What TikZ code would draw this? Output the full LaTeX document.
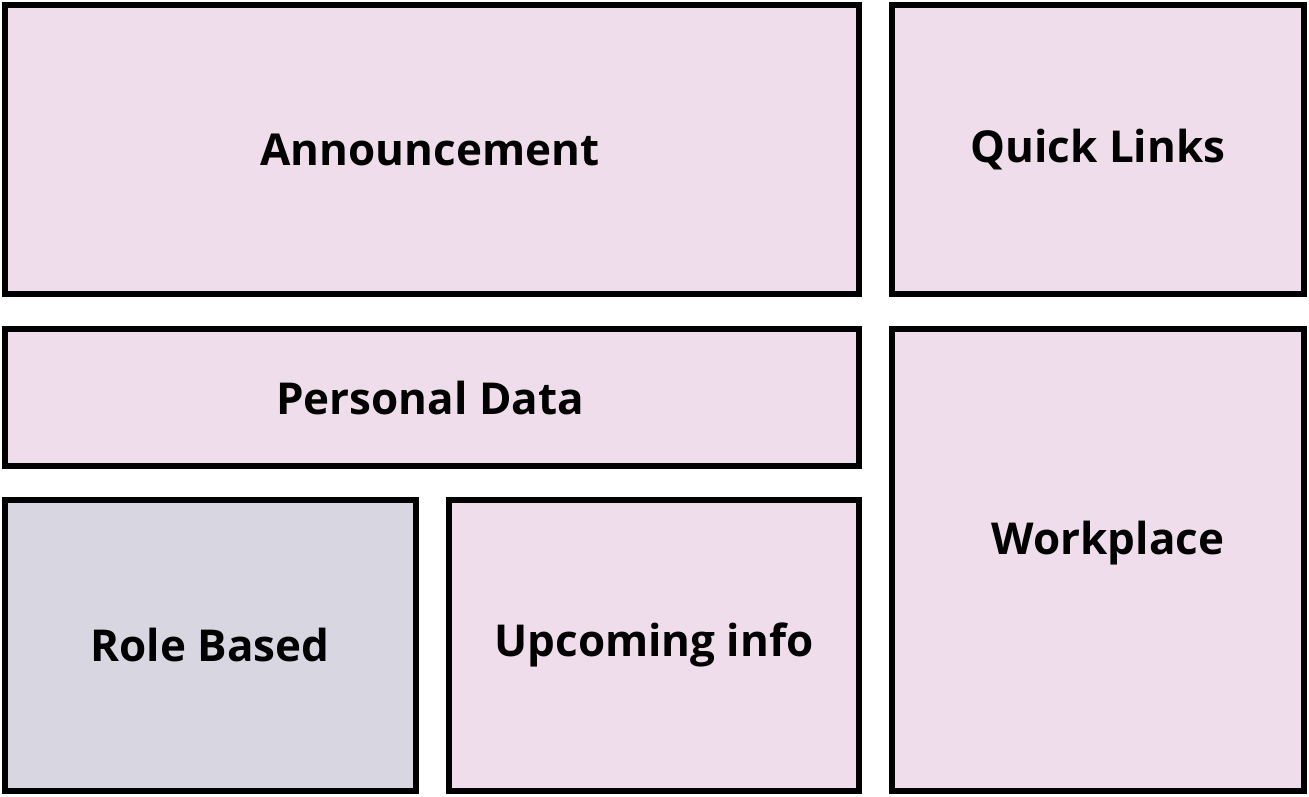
\documentclass[tikz,border=0pt]{standalone}
\usepackage{fontspec}
\setmainfont{Open Sans}
\begin{document}
\begin{tikzpicture}[x=0.01cm,y=-0.01cm,
  box/.style={draw=black,line width=0.06cm,fill=pink1},
  lbl/.style={font=\fontsize{12.5}{15}\selectfont\bfseries}]
\definecolor{pink1}{HTML}{EFDDEC}
\definecolor{grey1}{HTML}{D8D7E1}
\useasboundingbox (0,0) rectangle (1309,796);
\draw[box] (5,5) rectangle (859,294);
\draw[box] (892,5) rectangle (1304,294);
\draw[box] (5,329) rectangle (859,466);
\draw[box] (892,329) rectangle (1304,791);
\draw[box,fill=grey1] (5,500) rectangle (416,791);
\draw[box] (449,500) rectangle (859,791);
\node[lbl] (a) at (430,150) {Announcement};
\node[lbl] (q) at (1098,150) {Quick Links};
\node[lbl] (p) at (430,398) {Personal Data};
\node[lbl] (w) at (1108,543) {Workplace};
\node[lbl] (r) at (210,645) {Role Based};
\node[lbl] (u) at (654,645) {Upcoming info};
\end{tikzpicture}
\end{document}
